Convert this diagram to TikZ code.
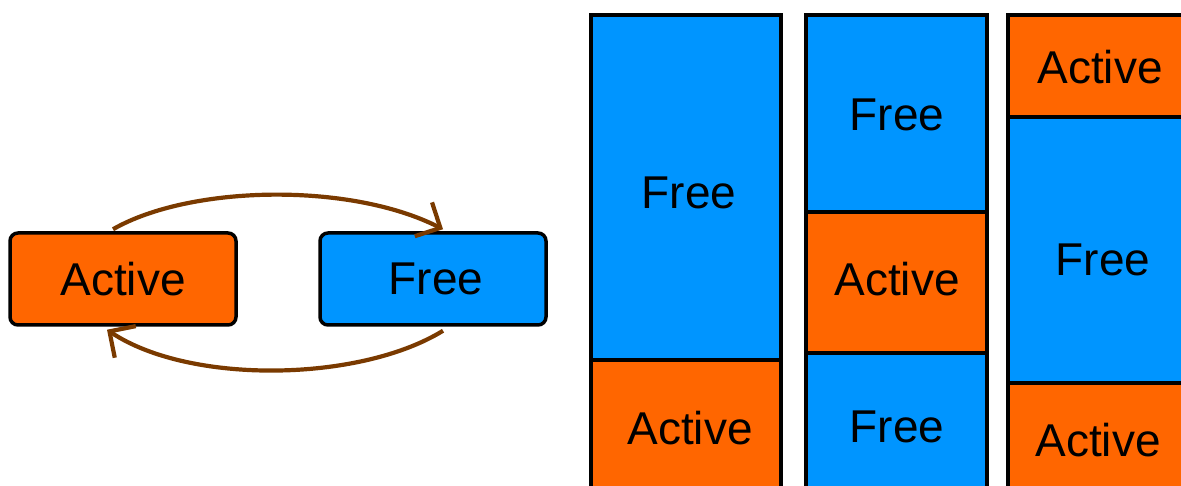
\documentclass[tikz,border=0pt]{standalone}
\usepackage{fontspec}
\setmainfont{Liberation Sans}
\usetikzlibrary{arrows.meta}
\definecolor{actc}{RGB}{255,102,0}
\definecolor{freec}{RGB}{0,149,255}
\definecolor{arrc}{RGB}{122,58,0}
\begin{document}
\begin{tikzpicture}[x=1pt,y=-1pt,
  txt/.style={font=\fontsize{46}{52}\selectfont, text=black, inner sep=0pt},
  state/.style={txt, draw=black, line width=3.5pt, rounded corners=8pt, minimum width=226pt, minimum height=92pt},
  cell/.style={draw=black, line width=4.5pt},
  act/.style={fill=actc},
  fre/.style={fill=freec},
  arr/.style={draw=arrc, line width=4.2pt, -{Straight Barb[length=19pt,width=38pt,line width=4.2pt]}}]
\useasboundingbox (0,0) rectangle (1181,486);
\clip (0,0) rectangle (1181,486);
% left state boxes
\node[state, act] (a) at (123,279) {Active};
\node[state, fre] (f) at (433,279) {\hspace*{6pt}Free};
\draw[arr] ([xshift=-10pt,yshift=2pt]a.north) .. controls (190,185) and (350,182) .. ([xshift=10pt,yshift=2pt]f.north);
\draw[arr] ([xshift=10pt,yshift=-4pt]f.south) .. controls (360,382) and (190,385) .. ([xshift=-16pt,yshift=-3pt]a.south);
% column 1
\draw[cell, fre] (591,15) rectangle (781,360);
\draw[cell, act] (591,360) rectangle (781,500);
\node[txt] (c1a) at (689,193) {Free};
\node[txt] (c1b) at (690,428) {Active};
% column 2
\draw[cell, fre] (806,15) rectangle (987,212);
\draw[cell, act] (806,212) rectangle (987,353);
\draw[cell, fre] (806,353) rectangle (987,500);
\node[txt] (c2a) at (897,115) {Free};
\node[txt] (c2b) at (897,279) {Active};
\node[txt] (c2c) at (897,427) {Free};
% column 3
\draw[cell, act] (1008,15) rectangle (1200,117);
\draw[cell, fre] (1008,117) rectangle (1200,383);
\draw[cell, act] (1008,383) rectangle (1200,500);
\node[txt] (c3a) at (1100,67) {Active};
\node[txt] (c3b) at (1103,260) {Free};
\node[txt] (c3c) at (1098,440) {Active};
\end{tikzpicture}
\end{document}
